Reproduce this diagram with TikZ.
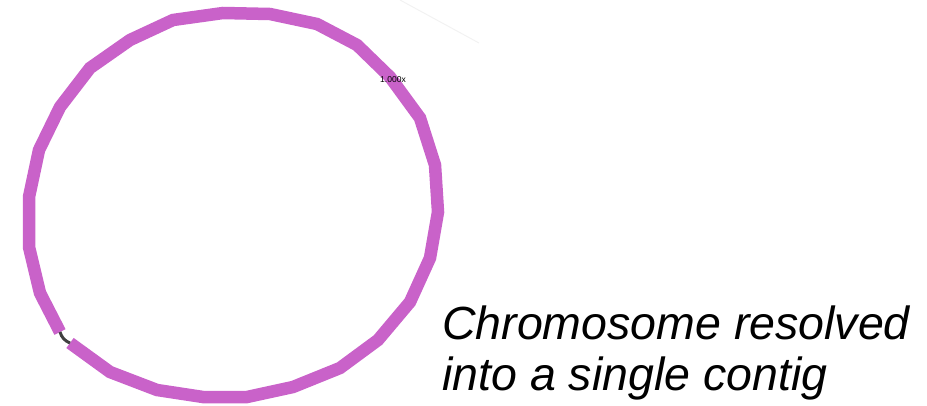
\documentclass[tikz,border=0pt]{standalone}
\usepackage{fontspec}
\setmainfont{Liberation Sans}
\usetikzlibrary{positioning}
\definecolor{contigcol}{RGB}{201,98,201}
\definecolor{linkcol}{RGB}{64,64,64}

\begin{document}
\begin{tikzpicture}[
  x=1pt, y=-1pt,
  contig/.style={draw=contigcol, line width=12.5pt, line join=miter},
  link/.style={draw=linkcol, line width=3pt},
  depth/.style={font=\fontsize{8.5}{9}\selectfont, inner sep=0pt},
  caption/.style={font=\fontsize{46.5}{51}\selectfont\itshape, align=left, inner sep=0pt}
]
\useasboundingbox (0,0) rectangle (927,405);
% faint trace at the top
\draw[black!5, line width=1pt] (400,0) -- (479,43);
% the single contig, drawn as one closed run round the ring
\coordinate (head) at (60,332);
\coordinate (tail) at (70,343);
\draw[contig] (head) -- (40,293) -- (29,247) -- (29,197) -- (39,150) -- (60,107)
  -- (90,68) -- (130,40) -- (173,20) -- (223,13) -- (270,14) -- (317,24)
  -- (357,45) -- (390,77) -- (420,118) -- (435,165) -- (438,212) -- (430,258)
  -- (410,302) -- (378,340) -- (340,368) -- (293,387) -- (247,397) -- (203,397)
  -- (157,390) -- (110,372) -- (tail);
% the link that closes the ring
\draw[link] (head) to[bend right=25] (tail);
\node[depth] (cov) at (393,80) {1.000x};
\node[caption, anchor=north west] (note) at (442,306) {Chromosome resolved\\into a single contig};
\end{tikzpicture}
\end{document}
